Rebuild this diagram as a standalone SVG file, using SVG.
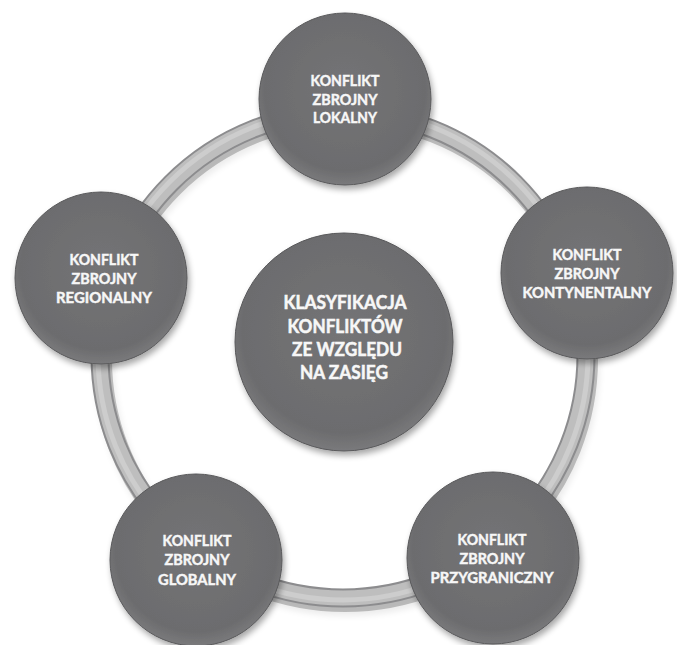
<svg xmlns="http://www.w3.org/2000/svg" width="677" height="645" viewBox="0 0 677 645">
  <defs>
    <filter id="shadow" x="-20%" y="-20%" width="140%" height="140%">
      <feGaussianBlur in="SourceAlpha" stdDeviation="3"/>
      <feOffset dx="2" dy="4" result="b"/>
      <feComponentTransfer><feFuncA type="linear" slope="0.35"/></feComponentTransfer>
      <feMerge><feMergeNode/><feMergeNode in="SourceGraphic"/></feMerge>
    </filter>
    <radialGradient id="disc" cx="50%" cy="45%" r="55%">
      <stop offset="0" stop-color="#747476"/>
      <stop offset="0.85" stop-color="#6c6c6e"/>
      <stop offset="1" stop-color="#7a7a7c"/>
    </radialGradient>
    <style>
      .node { fill: url(#disc); stroke: #58585a; stroke-width: 1; filter: url(#shadow); }
      .lbl { font-family: Lato, "Open Sans", "DejaVu Sans", sans-serif; font-weight: bold; font-size: 15px; fill: #f7f7f7; stroke: #f7f7f7; stroke-width: 0.45; text-anchor: middle; }
      .big { font-size: 19px; stroke-width: 0.55; }
      .ringShadow { fill: none; stroke: #000; stroke-opacity: 0.22; stroke-width: 20; }
      .ringOuter { fill: none; stroke: #8c8c8e; stroke-width: 19; }
      .ringInner { fill: none; stroke: #bebebe; stroke-width: 15; }
      .ringHi { fill: none; stroke: #cdcdcd; stroke-width: 5; }
    </style>
  </defs>
  <rect width="677" height="645" fill="#ffffff"/>

  <g id="connectors">
    <circle class="ringShadow" cx="345" cy="359" r="243" filter="url(#shadow)"/>
    <circle class="ringOuter" cx="343" cy="355" r="243"/>
    <circle class="ringInner" cx="343" cy="355" r="243"/>
    <circle class="ringHi" cx="343" cy="355" r="245"/>
  </g>

  <g id="node-lokalny">
    <circle class="node" cx="345" cy="99" r="86"/>
    <text class="lbl" x="345" y="86" textLength="69" lengthAdjust="spacingAndGlyphs">KONFLIKT</text>
    <text class="lbl" x="345" y="104.5" textLength="65" lengthAdjust="spacingAndGlyphs">ZBROJNY</text>
    <text class="lbl" x="345" y="123" textLength="64" lengthAdjust="spacingAndGlyphs">LOKALNY</text>
  </g>

  <g id="node-kontynentalny">
    <circle class="node" cx="587" cy="273" r="86"/>
    <text class="lbl" x="587" y="260" textLength="69" lengthAdjust="spacingAndGlyphs">KONFLIKT</text>
    <text class="lbl" x="587" y="279" textLength="65" lengthAdjust="spacingAndGlyphs">ZBROJNY</text>
    <text class="lbl" x="587" y="298" textLength="129" lengthAdjust="spacingAndGlyphs">KONTYNENTALNY</text>
  </g>

  <g id="node-przygraniczny">
    <circle class="node" cx="493" cy="558" r="86"/>
    <text class="lbl" x="492" y="545" textLength="69" lengthAdjust="spacingAndGlyphs">KONFLIKT</text>
    <text class="lbl" x="492" y="564" textLength="65" lengthAdjust="spacingAndGlyphs">ZBROJNY</text>
    <text class="lbl" x="492" y="583" textLength="123" lengthAdjust="spacingAndGlyphs">PRZYGRANICZNY</text>
  </g>

  <g id="node-globalny">
    <circle class="node" cx="196" cy="560" r="86"/>
    <text class="lbl" x="197" y="546" textLength="69" lengthAdjust="spacingAndGlyphs">KONFLIKT</text>
    <text class="lbl" x="197" y="565" textLength="65" lengthAdjust="spacingAndGlyphs">ZBROJNY</text>
    <text class="lbl" x="197" y="585" textLength="78" lengthAdjust="spacingAndGlyphs">GLOBALNY</text>
  </g>

  <g id="node-regionalny">
    <circle class="node" cx="101" cy="278" r="86"/>
    <text class="lbl" x="104" y="265" textLength="69" lengthAdjust="spacingAndGlyphs">KONFLIKT</text>
    <text class="lbl" x="104" y="284" textLength="65" lengthAdjust="spacingAndGlyphs">ZBROJNY</text>
    <text class="lbl" x="104" y="303" textLength="96" lengthAdjust="spacingAndGlyphs">REGIONALNY</text>
  </g>

  <g id="node-center">
    <circle class="node" cx="344" cy="342" r="109"/>
    <text class="lbl big" x="345" y="309" textLength="123" lengthAdjust="spacingAndGlyphs">KLASYFIKACJA</text>
    <text class="lbl big" x="345" y="333" textLength="115" lengthAdjust="spacingAndGlyphs">KONFLIKTÓW</text>
    <text class="lbl big" x="347" y="356" textLength="110" lengthAdjust="spacingAndGlyphs">ZE WZGLĘDU</text>
    <text class="lbl big" x="344" y="379" textLength="88" lengthAdjust="spacingAndGlyphs">NA ZASIĘG</text>
  </g>
</svg>
